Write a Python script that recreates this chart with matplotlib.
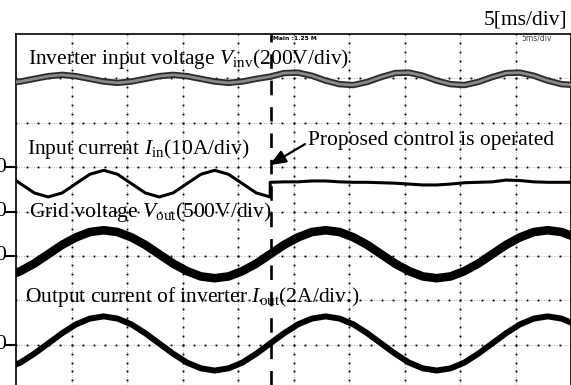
import numpy as np
import matplotlib
matplotlib.use("Agg")
import matplotlib.pyplot as plt
from matplotlib import transforms
from matplotlib.lines import Line2D

# ---------------- data ----------------
# time axis: 5 ms/div, 10 divisions; vertical values in screen divisions (0..8)
time_ms = [-0.85, 0.4, 1.65, 2.9, 4.15, 5.4, 6.65, 7.9, 9.15, 10.4, 11.65,
           12.9, 14.15, 15.4, 16.65, 17.9, 19.15, 20.4, 21.65, 22.9, 24.15,
           25.4, 26.65, 27.9, 29.15, 30.4, 31.65, 32.9, 34.15, 35.4, 36.65,
           37.9, 39.15, 40.4, 41.65, 42.9, 44.15, 45.4, 46.65, 47.9, 49.15,
           50.4]

control_time_ms = 22.95

v_inv = [6.90, 6.93, 6.99, 7.05, 7.08, 7.05, 6.99, 6.93, 6.90, 6.93, 6.99,
         7.05, 7.08, 7.05, 6.99, 6.93, 6.90, 6.93, 6.99,
         7.04, 7.12, 7.13, 7.06, 6.95, 6.87, 6.85, 6.92, 7.03, 7.12, 7.13,
         7.06, 6.95, 6.87, 6.85, 6.92, 7.03, 7.12, 7.13, 7.06, 6.95, 6.87,
         6.85]

i_in_before = [4.84, 4.63, 4.42, 4.33, 4.42, 4.63, 4.84, 4.93, 4.84, 4.63,
               4.42, 4.33, 4.42, 4.63, 4.84, 4.93, 4.84, 4.63, 4.42, 4.33]
i_in_after = [4.66, 4.67, 4.67, 4.69, 4.69, 4.67, 4.66, 4.66, 4.65, 4.64,
              4.62, 4.60, 4.60, 4.62, 4.65, 4.66, 4.67, 4.71, 4.70, 4.67,
              4.66, 4.66, 4.66]

v_out = [2.54, 2.66, 2.83,
         3.04, 3.25, 3.42, 3.54, 3.58, 3.54, 3.42, 3.25, 3.04, 2.83, 2.66,
         2.54, 2.50, 2.54, 2.66, 2.83,
         3.04, 3.25, 3.42, 3.54, 3.58, 3.54, 3.42, 3.25, 3.04, 2.83, 2.66,
         2.54, 2.50, 2.54, 2.66, 2.83,
         3.04, 3.25, 3.42, 3.54, 3.58, 3.54, 3.42]

i_out = [0.47, 0.60, 0.80,
         1.03, 1.26, 1.46, 1.59, 1.64, 1.59, 1.46, 1.26, 1.03, 0.80, 0.60,
         0.47, 0.42, 0.47, 0.60, 0.80,
         1.03, 1.26, 1.46, 1.59, 1.64, 1.59, 1.46, 1.26, 1.03, 0.80, 0.60,
         0.47, 0.42, 0.47, 0.60, 0.80,
         1.03, 1.26, 1.46, 1.59, 1.64, 1.59, 1.46]

ground_levels = [5, 4, 3, 1]

# ---------------- figure ----------------
W, H = 571, 385
plt.rcParams["mathtext.fontset"] = "custom"
plt.rcParams["mathtext.rm"] = "Liberation Serif"
plt.rcParams["mathtext.it"] = "Liberation Serif:italic"
plt.rcParams["font.family"] = ["Liberation Serif", "DejaVu Serif"]

fig = plt.figure(figsize=(W / 100, H / 100), dpi=100)
left_px, top_px = 16, 34
div_y = 44.4
ax = fig.add_axes([left_px / W, 0, (W - left_px) / W, (H - top_px) / H])
ax.set_xlim(0, 50)
ax.set_ylim(8 - (H - top_px) / div_y, 8)
ax.set_xticks([])
ax.set_yticks([])
for s in ["bottom"]:
    ax.spines[s].set_visible(False)
for s in ["left", "top", "right"]:
    ax.spines[s].set_linewidth(1.2)
    ax.spines[s].set_color("black")

# scope grid
for gx in range(5, 50, 5):
    ax.axvline(gx, color="#9a9a9a", lw=0.6, ls=(0, (1, 2)), zorder=1)
for gy in range(1, 8):
    ax.axhline(gy, color="#9a9a9a", lw=0.6, ls=(0, (1, 2)), zorder=1)
ymin = ax.get_ylim()[0]
yy = np.arange(0, 8.01, 0.2)
yy = yy[yy > ymin]
xx = np.arange(0, 50.01, 1.0)
for gx in range(5, 50, 5):
    ax.plot(np.full_like(yy, gx), yy, ls="none", marker="s", ms=1.3,
            color="black", mew=0, zorder=1.5)
for gy in range(1, 8):
    ax.plot(xx, np.full_like(xx, gy), ls="none", marker="s", ms=1.3,
            color="black", mew=0, zorder=1.5)

# waveforms
ax.plot(time_ms, v_inv, color="#2a2a2a", lw=4.6, solid_capstyle="butt", zorder=3)
ax.plot(time_ms, v_inv, color="#8a8a8a", lw=2.0, solid_capstyle="butt", zorder=3.1)
ax.plot(time_ms[:20] + time_ms[19:], i_in_before + i_in_after,
        color="black", lw=2.2, zorder=3)
ax.plot(time_ms, v_out, color="black", lw=6.2, zorder=3)
ax.plot(time_ms, i_out, color="black", lw=4.3, zorder=3)

# control instant
ax.axvline(control_time_ms, color="black", lw=1.9, ls=(0, (5.5, 4.5)), zorder=4)

# ground markers on the left
blend = transforms.blended_transform_factory(fig.transFigure, ax.transData)
for g in ground_levels:
    fig.text(6 / W, g, "0", transform=blend, ha="right", va="center",
             fontsize=15.5)
    fig.add_artist(Line2D([5 / W, left_px / W], [g, g], transform=blend,
                          color="black", lw=1.5))

def ftext(x, y, s, **kw):
    fig.text(x / W, 1 - y / H, s, va="baseline", fontsize=15.5, zorder=6, **kw)

ftext(567, 25, "5[ms/div]", ha="right")
ftext(28, 64, r"Inverter input voltage $V_{\mathrm{inv}}$(200V/div)")
ftext(27, 154, r"Input current $I_{\mathrm{in}}$(10A/div)")
ftext(308, 145, "Proposed control is operated")
ftext(29, 217, r"Grid voltage $V_{\mathrm{out}}$(500V/div)")
ftext(25, 302, r"Output current of inverter $I_{\mathrm{out}}$(2A/div.)")

fig.text(273 / W, 1 - 38 / H, "Main :1.25 M", fontsize=4.3, weight="bold",
         family="DejaVu Sans", va="center", ha="left")
fig.text(552 / W, 1 - 38 / H, "5ms/div", fontsize=5.5, color="#444444",
         family="DejaVu Sans", va="center", ha="right")

ax.annotate("", xy=(22.82, 5.045), xytext=(26.04, 5.52),
            arrowprops=dict(arrowstyle="-|>,head_length=1.0,head_width=0.4",
                            color="black", lw=1.6, shrinkA=0, shrinkB=0),
            zorder=6)

fig.savefig("out.png", dpi=100)
